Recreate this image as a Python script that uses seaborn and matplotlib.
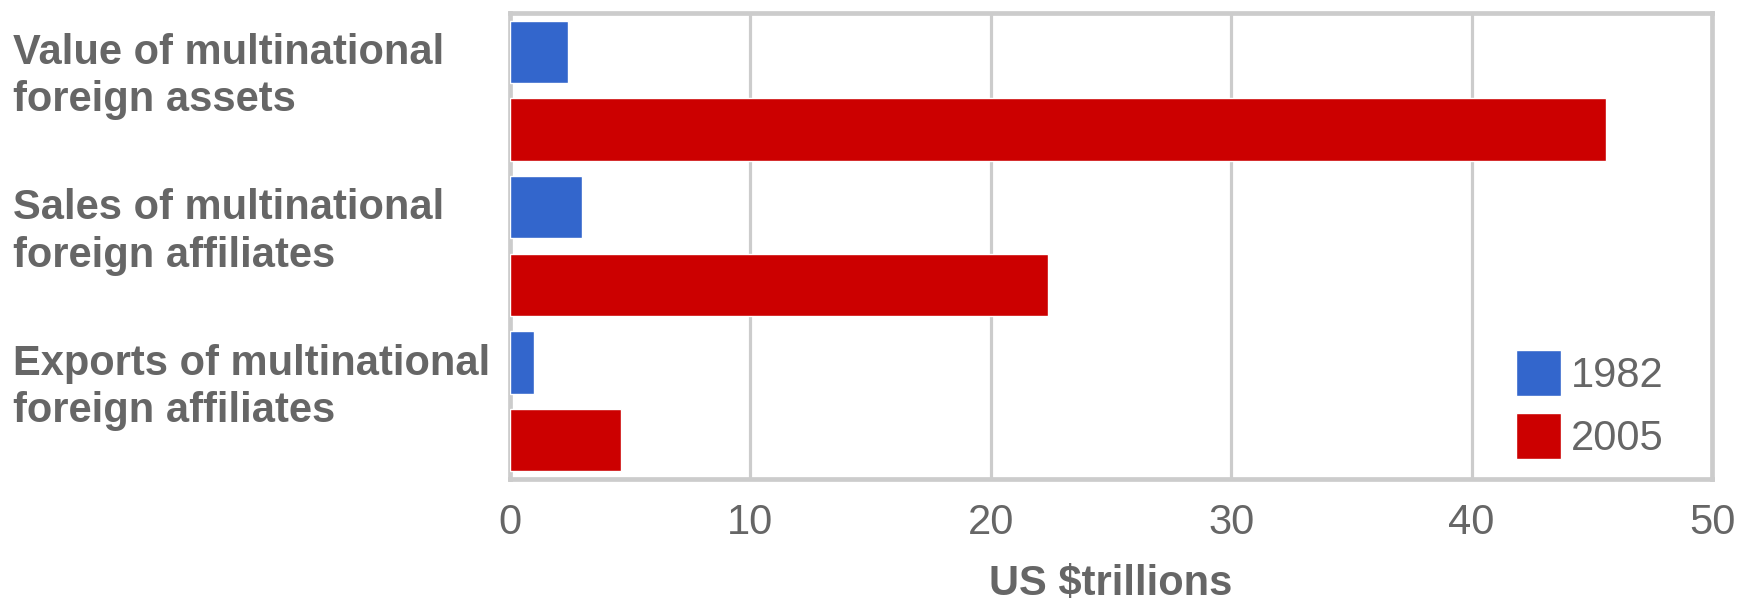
import matplotlib
matplotlib.use("Agg")
import matplotlib.pyplot as plt
import seaborn as sns
import pandas as pd
from matplotlib.transforms import blended_transform_factory

categories = ["Value of multinational\nforeign assets",
              "Sales of multinational\nforeign affiliates",
              "Exports of multinational\nforeign affiliates"]
years = ["1982", "2005"]
values_1982 = [2.4, 3.0, 1.0]
values_2005 = [45.6, 22.4, 4.6]
x_ticks = [0, 10, 20, 30, 40, 50]
x_title = "US $trillions"

colors = {"1982": "#3366CC", "2005": "#CC0000"}
grid_c = "#CCCCCC"
text_c = "#666666"

df = pd.DataFrame({
    "category": categories * 2,
    "year": [years[0]] * 3 + [years[1]] * 3,
    "value": values_1982 + values_2005,
})

sns.set_theme(style="white")
plt.rcParams["font.family"] = ["Liberation Sans", "DejaVu Sans"]

fig = plt.figure(figsize=(17.38, 6.01), dpi=100)
ax = fig.add_axes([510 / 1738, 1 - 479 / 601, (1712 - 510) / 1738, (479 - 13) / 601])

sns.barplot(data=df, y="category", x="value", hue="year", orient="h",
            palette=colors, order=categories, hue_order=years,
            width=1.0, gap=0.2, dodge=True, saturation=1, ax=ax, zorder=3)

ax.set_xlim(0, 50)
ax.set_ylim(2.5, -0.5)
ax.set_xticks(x_ticks)
ax.set_xticklabels([str(t) for t in x_ticks], fontsize=30, color=text_c)
ax.tick_params(axis="x", direction="out", length=9.5, width=2.2, color=grid_c, pad=8)
ax.set_yticks([])
ax.set_ylabel("")
ax.set_xlabel(x_title, fontsize=30, fontweight="bold", color=text_c, labelpad=15)

for t in x_ticks[1:-1]:
    ax.axvline(t, color=grid_c, lw=2.3, zorder=1)
for s in ax.spines.values():
    s.set_visible(True)
    s.set_color(grid_c)
    s.set_linewidth(3.4)

trans = blended_transform_factory(fig.transFigure, ax.transData)
for i, cat in enumerate(categories):
    ax.text(13 / 1738, i - 0.09, cat, transform=trans, ha="left", va="center",
            fontsize=30, fontweight="bold", color=text_c, linespacing=1.23)

handles, labels = ax.get_legend_handles_labels()
if ax.get_legend() is not None:
    ax.get_legend().remove()
leg = ax.legend(handles, labels, loc="upper left",
                bbox_to_anchor=(1516 / 1738, 1 - 350 / 601),
                bbox_transform=fig.transFigure, frameon=False,
                fontsize=30, handlelength=1.07, handleheight=1.32,
                handletextpad=0.25, labelspacing=0.4, borderpad=0, borderaxespad=0)
for txt in leg.get_texts():
    txt.set_color(text_c)

fig.savefig("out.png", dpi=100, facecolor="white")
